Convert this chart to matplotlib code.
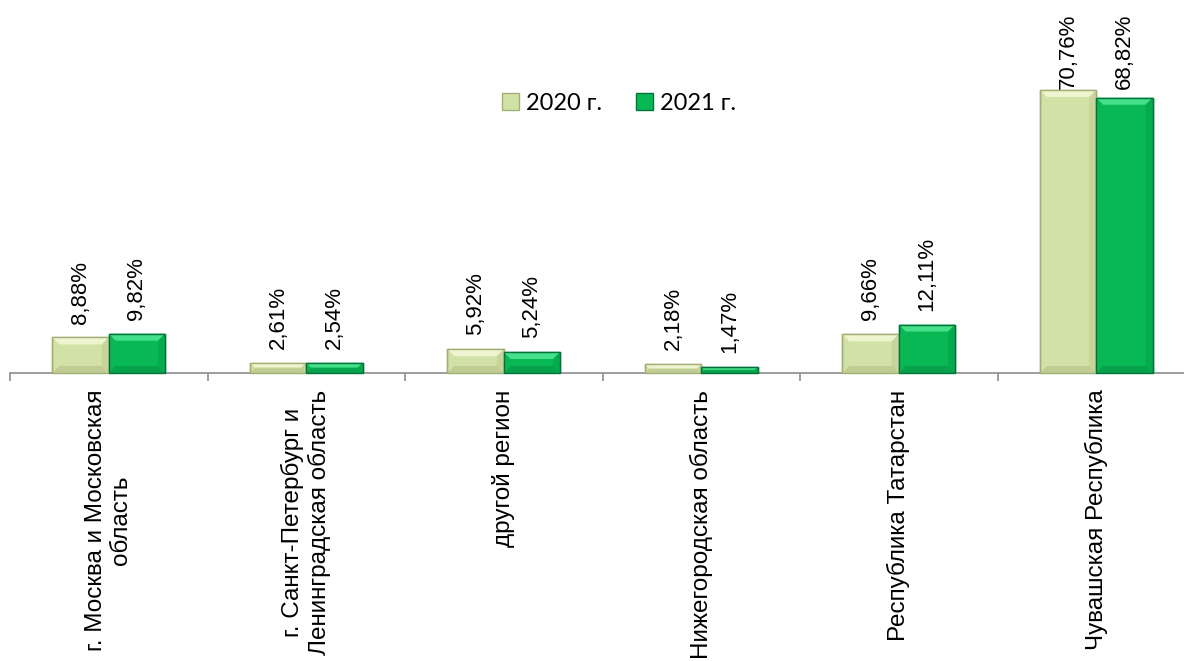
import matplotlib
matplotlib.use("Agg")
import matplotlib.pyplot as plt
import numpy as np
from matplotlib.patches import Polygon, Patch

categories = ["г. Москва и Московская\nобласть",
              "г. Санкт-Петербург и\nЛенинградская область",
              "другой регион",
              "Нижегородская область",
              "Республика Татарстан",
              "Чувашская Республика"]
values_2020 = [8.88, 2.61, 5.92, 2.18, 9.66, 70.76]
values_2021 = [9.82, 2.54, 5.24, 1.47, 12.11, 68.82]
labels_2020 = ["8,88%", "2,61%", "5,92%", "2,18%", "9,66%", "70,76%"]
labels_2021 = ["9,82%", "2,54%", "5,24%", "1,47%", "12,11%", "68,82%"]
series_names = ["2020 г.", "2021 г."]

W, H = 1184, 661
fig = plt.figure(figsize=(W / 100, H / 100), dpi=100)
ax_left = 10 / W
ax_width = (1195 - 10) / W
ax_bottom = (H - 373) / H
ax_height = 1 - ax_bottom
ax = fig.add_axes([ax_left, ax_bottom, ax_width, ax_height])

ymax = 373 / 4.0  # 4 px per unit
ax.set_ylim(0, ymax)
ax.set_xlim(0, 6)

x = np.arange(6) + 0.5
bw = 0.285
fill = ["#d2e1a6", "#07b855"]
edge = ["#a3ae76", "#04733a"]
hi = ["#eef4cf", "#45e08a"]
sh = ["#c0cc94", "#06a24b"]

bars1 = ax.bar(x - bw / 2, values_2020, bw, color=fill[0], edgecolor=edge[0], linewidth=1.0, zorder=3)
bars2 = ax.bar(x + bw / 2, values_2021, bw, color=fill[1], edgecolor=edge[1], linewidth=1.0, zorder=3)

# bevel effect drawn in display space from each bar's extent
fig.canvas.draw()
for bars, k in ((bars1, 0), (bars2, 1)):
    for b in bars:
        bb = b.get_window_extent()
        x0, x1, y0, y1 = bb.x0, bb.x1, bb.y0, bb.y1
        d = min(7, (y1 - y0) / 2.2)
        top = Polygon([[x0, y1], [x1, y1], [x1 - d, y1 - d], [x0 + d, y1 - d]], closed=True,
                      transform=None, facecolor=hi[k], edgecolor="none", zorder=4)
        bot = Polygon([[x0, y0], [x1, y0], [x1 - d, y0 + d], [x0 + d, y0 + d]], closed=True,
                      transform=None, facecolor=sh[k], edgecolor="none", zorder=4)
        right = Polygon([[x1, y0], [x1, y1], [x1 - d, y1 - d], [x1 - d, y0 + d]], closed=True,
                        transform=None, facecolor=sh[k], edgecolor="none", zorder=4, alpha=0.6)
        fig.add_artist(top)
        fig.add_artist(bot)
        fig.add_artist(right)
        fig.add_artist(Polygon([[x0, y0], [x0, y1], [x1, y1], [x1, y0]], closed=True, transform=None,
                               facecolor="none", edgecolor=edge[k], linewidth=1.0, zorder=5))

anns = []
for bars, labs in ((bars1, labels_2020), (bars2, labels_2021)):
    for b, lab in zip(bars, labs):
        a = ax.annotate(lab, (b.get_x() + b.get_width() / 2, b.get_height()),
                        xytext=(0, 10), textcoords="offset points", rotation=90,
                        ha="center", va="bottom", fontsize=16, family="Liberation Sans", zorder=6,
                        annotation_clip=False)
        anns.append(a)

# keep labels inside the chart area (like the source): clamp the top to ~14 px from the top edge
fig.canvas.draw()
r = fig.canvas.get_renderer()
limit = H - 14
for a in anns:
    bb = a.get_window_extent(r)
    if bb.y1 > limit:
        shift_px = bb.y1 - limit
        a.set_position((0, 10 - shift_px * 72 / 100))

for s in ["top", "right", "left"]:
    ax.spines[s].set_visible(False)
ax.spines["bottom"].set_color("#8c8c8c")
ax.spines["bottom"].set_linewidth(1.2)
ax.set_yticks([])
ax.set_xticks(np.arange(7))
ax.set_xticklabels([])
ax.tick_params(axis="x", length=6, color="#8c8c8c", width=1.2, direction="out")
ax.set_xticks(x, minor=True)
ax.tick_params(axis="x", which="minor", length=0)
ax.set_xticklabels(categories, minor=True, rotation=90, ha="center", va="top",
                   fontsize=17.5, family="Liberation Sans", multialignment="center")
ax.tick_params(axis="x", which="minor", pad=12)

handles = [Patch(facecolor=fill[0], edgecolor=edge[0]), Patch(facecolor=fill[1], edgecolor=edge[1])]
leg = fig.legend(handles, series_names, loc="center", bbox_to_anchor=(619 / W, 1 - 103 / H),
                 ncol=2, frameon=False, prop={"family": "Lato", "size": 17},
                 handlelength=0.75, handleheight=0.75, handletextpad=0.3, columnspacing=1.4)

fig.savefig("out.png", dpi=100)
